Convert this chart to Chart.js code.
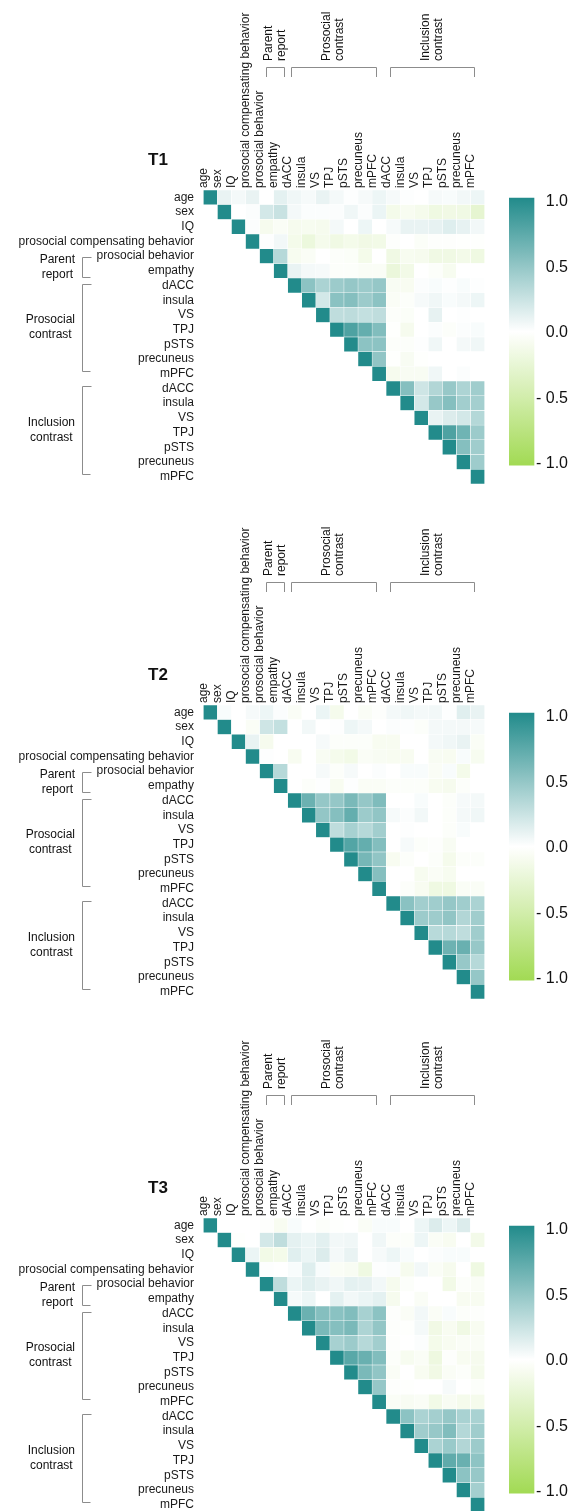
<!DOCTYPE html>
<html>
<head>
<meta charset="utf-8">
<script src="https://cdn.jsdelivr.net/npm/chart.js@4.4.1/dist/chart.umd.min.js"></script>
<style>
  html, body { margin: 0; padding: 0; background: #fff; }
  body { width: 579px; height: 1511px; overflow: hidden; position: relative; }
  canvas { position: absolute; display: block; }
</style>
</head>
<body>
<canvas id="m0" width="579" height="514" style="left:0;top:0"></canvas>
<canvas id="c0" width="70" height="514" style="left:509px;top:0"></canvas>
<canvas id="m1" width="579" height="514" style="left:0;top:515px"></canvas>
<canvas id="c1" width="70" height="514" style="left:509px;top:515px"></canvas>
<canvas id="m2" width="579" height="514" style="left:0;top:1028px"></canvas>
<canvas id="c2" width="70" height="514" style="left:509px;top:1028px"></canvas>
<script>
// Variables shown on both axes of every correlation matrix
const variables = [
  'age', 'sex', 'IQ', 'prosocial compensating behavior', 'prosocial behavior', 'empathy',
  'dACC', 'insula', 'VS', 'TPJ', 'pSTS', 'precuneus', 'mPFC',
  'dACC', 'insula', 'VS', 'TPJ', 'pSTS', 'precuneus', 'mPFC'
];

// Variable groups (bracketed on the top and left margins)
const groupNames = [['Parent', 'report'], ['Prosocial', 'contrast'], ['Inclusion', 'contrast']];
const groupFirst = [4, 6, 13];
const groupLast = [5, 12, 19];

const waves = ['T1', 'T2', 'T3'];

// Colour bar ticks
const colorbarTicks = [1, 0.5, 0, -0.5, -1];
const colorbarLabels = ['1.0', '0.5', '0.0', '- 0.5', '- 1.0'];

// Upper triangle of each correlation matrix, row by row (entries right of the diagonal)
const t1 = [
  [0.1, 0.05, 0.1, 0.0, 0.12, 0.07, 0.04, 0.1, 0.05, 0.01, 0.04, 0.08, 0.04, 0.01, 0.0, 0.04, 0.03, 0.06, 0.08],
  [0.0, 0.02, 0.2, 0.25, 0.05, 0.02, 0.02, 0.02, 0.07, 0.02, 0.09, -0.12, -0.08, -0.11, -0.17, -0.15, -0.16, -0.27],
  [0.02, -0.1, -0.05, -0.1, -0.09, -0.1, 0.05, 0.0, 0.08, 0.0, 0.04, 0.1, 0.1, 0.11, 0.15, 0.11, 0.06],
  [0.01, 0.06, -0.12, -0.2, -0.11, -0.16, -0.12, -0.15, -0.14, -0.02, 0.0, -0.04, -0.02, -0.02, -0.01, -0.01],
  [0.33, -0.09, -0.05, 0.0, -0.03, -0.04, -0.12, 0.0, -0.16, -0.09, -0.1, -0.16, -0.16, -0.13, -0.17],
  [0.1, 0.05, 0.04, -0.03, -0.03, -0.05, -0.05, -0.21, -0.14, 0.0, -0.03, -0.09, 0.0, 0.0],
  [0.52, 0.38, 0.45, 0.48, 0.45, 0.48, -0.07, -0.08, 0.02, 0.03, 0.01, 0.03, 0.01],
  [0.2, 0.53, 0.55, 0.45, 0.52, -0.05, -0.03, 0.04, 0.07, 0.03, 0.05, 0.08],
  [0.29, 0.3, 0.27, 0.29, -0.03, -0.04, 0.0, 0.11, 0.0, 0.01, 0.0],
  [0.8, 0.7, 0.57, -0.01, -0.1, 0.0, 0.02, -0.03, 0.02, 0.03],
  [0.52, 0.52, -0.03, -0.03, 0.01, 0.07, 0.0, 0.05, 0.07],
  [0.5, -0.01, -0.07, -0.01, 0.0, 0.0, 0.0, 0.0],
  [-0.1, -0.07, -0.07, 0.07, 0.0, 0.02, 0.0],
  [0.55, 0.22, 0.35, 0.47, 0.37, 0.43],
  [0.2, 0.47, 0.55, 0.42, 0.41],
  [0.1, 0.16, 0.2, 0.34],
  [0.8, 0.65, 0.45],
  [0.55, 0.43],
  [0.44]
];

const t2 = [
  [0.03, 0.0, 0.04, 0.08, 0.02, -0.05, 0.0, 0.09, -0.11, 0.0, -0.05, -0.02, 0.05, 0.07, 0.05, 0.06, 0.01, 0.14, 0.1],
  [0.0, -0.05, 0.22, 0.27, 0.0, 0.06, 0.0, 0.01, 0.08, 0.05, 0.0, 0.02, 0.01, -0.03, 0.05, 0.05, 0.05, 0.04],
  [0.1, -0.1, 0.0, 0.0, 0.0, 0.04, -0.03, -0.03, -0.03, -0.08, -0.08, 0.0, 0.0, 0.05, 0.07, 0.1, -0.05],
  [0.01, 0.0, -0.08, 0.0, -0.07, -0.11, -0.14, -0.05, -0.07, -0.08, -0.08, 0.0, -0.07, -0.08, 0.03, -0.09],
  [0.33, 0.0, 0.0, 0.04, -0.03, 0.04, 0.0, 0.02, 0.0, 0.03, 0.03, -0.05, 0.03, -0.12, 0.0],
  [0.0, -0.03, 0.01, -0.08, 0.01, -0.05, -0.05, -0.03, -0.03, -0.03, -0.08, -0.1, -0.03, 0.0],
  [0.67, 0.48, 0.48, 0.6, 0.48, 0.58, 0.0, 0.0, 0.03, 0.0, -0.03, 0.04, 0.05],
  [0.49, 0.55, 0.7, 0.45, 0.5, 0.04, 0.02, 0.06, 0.0, -0.03, 0.05, 0.07],
  [0.29, 0.4, 0.33, 0.42, 0.0, 0.01, 0.0, 0.0, -0.03, 0.03, 0.0],
  [0.78, 0.7, 0.56, 0.0, 0.04, -0.03, -0.02, -0.07, 0.0, 0.0],
  [0.62, 0.5, -0.08, -0.03, 0.0, -0.03, -0.11, -0.03, -0.03],
  [0.55, 0.0, 0.0, -0.09, -0.05, -0.09, 0.0, 0.0],
  [0.0, -0.03, -0.08, -0.17, -0.17, -0.05, -0.05],
  [0.53, 0.42, 0.43, 0.48, 0.43, 0.38],
  [0.45, 0.44, 0.5, 0.35, 0.43],
  [0.32, 0.33, 0.29, 0.43],
  [0.66, 0.68, 0.47],
  [0.47, 0.33],
  [0.48]
];

const t3 = [
  [0.0, 0.0, 0.0, -0.02, -0.08, 0.03, 0.0, -0.03, -0.01, 0.0, -0.05, 0.03, 0.03, 0.0, 0.08, 0.16, 0.08, 0.16, 0.0],
  [-0.01, 0.0, 0.2, 0.29, 0.12, 0.09, 0.13, 0.06, 0.07, 0.0, 0.07, -0.03, -0.03, 0.08, -0.05, -0.08, 0.0, -0.13],
  [0.09, -0.14, -0.12, 0.14, 0.09, 0.16, 0.05, 0.1, 0.0, 0.04, 0.08, 0.03, 0.0, 0.02, 0.03, 0.03, 0.0],
  [0.01, 0.0, 0.03, 0.15, 0.03, -0.05, -0.07, -0.17, 0.01, 0.02, -0.1, 0.06, -0.05, -0.1, 0.0, -0.17],
  [0.29, 0.09, 0.14, 0.1, 0.07, 0.12, 0.11, 0.06, -0.1, -0.03, 0.0, 0.0, -0.14, -0.03, -0.05],
  [0.04, 0.08, 0.0, 0.12, 0.06, 0.09, 0.12, -0.1, 0.0, -0.05, 0.0, 0.0, -0.08, -0.08],
  [0.67, 0.55, 0.53, 0.57, 0.4, 0.52, -0.02, -0.05, 0.06, -0.05, 0.03, -0.03, -0.02],
  [0.6, 0.55, 0.6, 0.37, 0.49, -0.02, -0.01, 0.05, -0.15, -0.08, -0.16, -0.08],
  [0.4, 0.45, 0.33, 0.42, -0.02, 0.0, 0.02, -0.12, -0.08, -0.05, -0.05],
  [0.75, 0.68, 0.57, -0.03, -0.09, -0.05, -0.18, -0.02, -0.08, -0.1],
  [0.6, 0.5, -0.05, 0.0, -0.08, -0.15, -0.05, -0.03, -0.11],
  [0.48, -0.02, -0.01, 0.0, 0.0, 0.04, 0.0, -0.03],
  [-0.05, -0.07, -0.05, -0.14, -0.07, -0.11, -0.11],
  [0.52, 0.38, 0.41, 0.48, 0.39, 0.39],
  [0.43, 0.47, 0.57, 0.34, 0.43],
  [0.38, 0.46, 0.35, 0.45],
  [0.72, 0.68, 0.51],
  [0.52, 0.47],
  [0.41]
];

const matrices = [t1, t2, t3];

// ---- colour scale: green (-1) -> white (0) -> teal (+1)
const TEAL = [34, 139, 139];
const GREEN = [162, 218, 84];
function cellColor(v) {
  const t = Math.min(1, Math.abs(v));
  const end = v >= 0 ? TEAL : GREEN;
  const c = end.map(e => Math.round(255 + (e - 255) * t));
  return `rgb(${c[0]},${c[1]},${c[2]})`;
}

// One floating bar per cell: column on x, row band [r-0.5, r+0.5] on y
function cells(upper) {
  const out = [];
  for (let r = 0; r < variables.length; r++) {
    out.push({ x: r, y: [r - 0.5, r + 0.5], v: 1 });
    (upper[r] || []).forEach((v, k) => out.push({ x: r + 1 + k, y: [r - 0.5, r + 0.5], v }));
  }
  return out;
}

Chart.defaults.font.family = "'Liberation Sans', Arial, Helvetica, sans-serif";
Chart.defaults.font.size = 12;
Chart.defaults.color = '#1a1a1a';

const integerTicks = scale => { scale.ticks = variables.map((_, i) => ({ value: i })); };

// Title, group brackets and group names around the matrix
const decorations = {
  id: 'decorations',
  afterDraw(chart, args, opts) {
    const { ctx } = chart;
    const xs = chart.scales.x, ys = chart.scales.y;
    ctx.save();
    ctx.fillStyle = '#111';
    ctx.font = "bold 17px 'Liberation Sans', Arial, sans-serif";
    ctx.textAlign = 'left';
    ctx.textBaseline = 'alphabetic';
    ctx.fillText(opts.title, 148, 165);

    ctx.strokeStyle = '#8c8c8c';
    ctx.lineWidth = 1;
    ctx.font = "12px 'Liberation Sans', Arial, sans-serif";
    groupNames.forEach((lines, g) => {
      // top bracket
      let x1 = xs.getPixelForValue(groupFirst[g]) - 3.5;
      let x2 = xs.getPixelForValue(groupLast[g]) - 3.5;
      if (x2 - x1 < 18) { const m = (x1 + x2) / 2 + 5; x1 = m - 9; x2 = m + 9; }
      ctx.beginPath();
      ctx.moveTo(Math.round(x1) + 0.5, 77);
      ctx.lineTo(Math.round(x1) + 0.5, 67.5);
      ctx.lineTo(Math.round(x2) + 0.5, 67.5);
      ctx.lineTo(Math.round(x2) + 0.5, 77);
      ctx.stroke();
      const xm = (x1 + x2) / 2;
      lines.forEach((txt, i) => {
        ctx.save();
        ctx.translate(xm + (i - (lines.length - 1) / 2) * 13, 61);
        ctx.rotate(-Math.PI / 2);
        ctx.textAlign = 'left';
        ctx.textBaseline = 'middle';
        ctx.fillText(txt, 0, 0);
        ctx.restore();
      });

      // left bracket
      let y1 = ys.getPixelForValue(groupFirst[g]) - 2;
      let y2 = ys.getPixelForValue(groupLast[g]) - 3;
      if (y2 - y1 < 18) { const m = (y1 + y2) / 2 + 6; y1 = m - 10; y2 = m + 10; }
      const bx = 82.5;
      ctx.beginPath();
      ctx.moveTo(bx + 9, Math.round(y1) + 0.5);
      ctx.lineTo(bx, Math.round(y1) + 0.5);
      ctx.lineTo(bx, Math.round(y2) + 0.5);
      ctx.lineTo(bx + 8, Math.round(y2) + 0.5);
      ctx.stroke();
      const widest = Math.max(...lines.map(t => ctx.measureText(t).width));
      const cx = 75 - widest / 2;
      const ym = (y1 + y2) / 2;
      lines.forEach((txt, i) => {
        ctx.textAlign = 'center';
        ctx.textBaseline = 'middle';
        ctx.fillText(txt, cx, ym + (i - (lines.length - 1) / 2) * 15);
      });
    });
    ctx.restore();
  }
};

function makeMatrix(id, upper, title) {
  return new Chart(document.getElementById(id), {
    type: 'bar',
    data: {
      datasets: [{
        data: cells(upper),
        backgroundColor: c => cellColor(c.raw.v),
        borderColor: '#ffffff',
        borderWidth: 0.5,
        borderSkipped: false,
        barPercentage: 1,
        categoryPercentage: 1,
        grouped: false
      }]
    },
    options: {
      responsive: false,
      animation: false,
      events: [],
      layout: { padding: { left: 0, top: 0, right: 87, bottom: 30 } },
      plugins: {
        legend: { display: false },
        tooltip: { enabled: false },
        decorations: { title }
      },
      scales: {
        x: {
          type: 'linear',
          position: 'top',
          min: -0.5,
          max: 19.5,
          afterBuildTicks: integerTicks,
          afterFit: s => { s.height = 190; },
          grid: { display: false, drawTicks: false },
          border: { display: false },
          ticks: {
            autoSkip: false,
            minRotation: 90,
            maxRotation: 90,
            padding: 2,
            labelOffset: 7.5,
            callback: v => variables[v]
          }
        },
        y: {
          type: 'linear',
          reverse: true,
          min: -0.5,
          max: 19.5,
          afterBuildTicks: integerTicks,
          afterFit: s => { s.width = 196; },
          grid: { display: false, drawTicks: false },
          border: { display: false },
          ticks: {
            autoSkip: false,
            padding: 2,
            callback: v => variables[v]
          }
        }
      }
    },
    plugins: [decorations]
  });
}

// The colour bar runs a touch past the end ticks
const barLow = -1.008;
const barHigh = 1.03;

function makeColorbar(id) {
  return new Chart(document.getElementById(id), {
    type: 'bar',
    data: {
      labels: [''],
      datasets: [{
        data: [[barLow, barHigh]],
        borderWidth: 0,
        barPercentage: 1,
        categoryPercentage: 1,
        clip: false,
        backgroundColor: c => {
          const a = c.chart.chartArea;
          if (!a) return cellColor(0);
          const ys = c.chart.scales.y;
          const g = c.chart.ctx.createLinearGradient(0, ys.getPixelForValue(barHigh), 0, ys.getPixelForValue(barLow));
          for (let i = 0; i <= 20; i++) {
            g.addColorStop(i / 20, cellColor(1 - i / 10));
          }
          return g;
        }
      }]
    },
    options: {
      responsive: false,
      animation: false,
      events: [],
      layout: { padding: { left: 0, top: 202, right: 11, bottom: 50 } },
      plugins: { legend: { display: false }, tooltip: { enabled: false } },
      scales: {
        x: { display: false },
        y: {
          position: 'right',
          min: -1,
          max: 1,
          afterBuildTicks: s => { s.ticks = colorbarTicks.map(v => ({ value: v })); },
          afterFit: s => { s.width = 34; },
          grid: { display: false, drawTicks: false },
          border: { display: false },
          ticks: {
            crossAlign: 'far',
            padding: 0,
            font: { size: 16 },
            color: '#111',
            callback: v => colorbarLabels[colorbarTicks.indexOf(v)]
          }
        }
      }
    }
  });
}

matrices.forEach((m, i) => {
  makeMatrix('m' + i, m, waves[i]);
  makeColorbar('c' + i);
});
</script>
</body>
</html>
